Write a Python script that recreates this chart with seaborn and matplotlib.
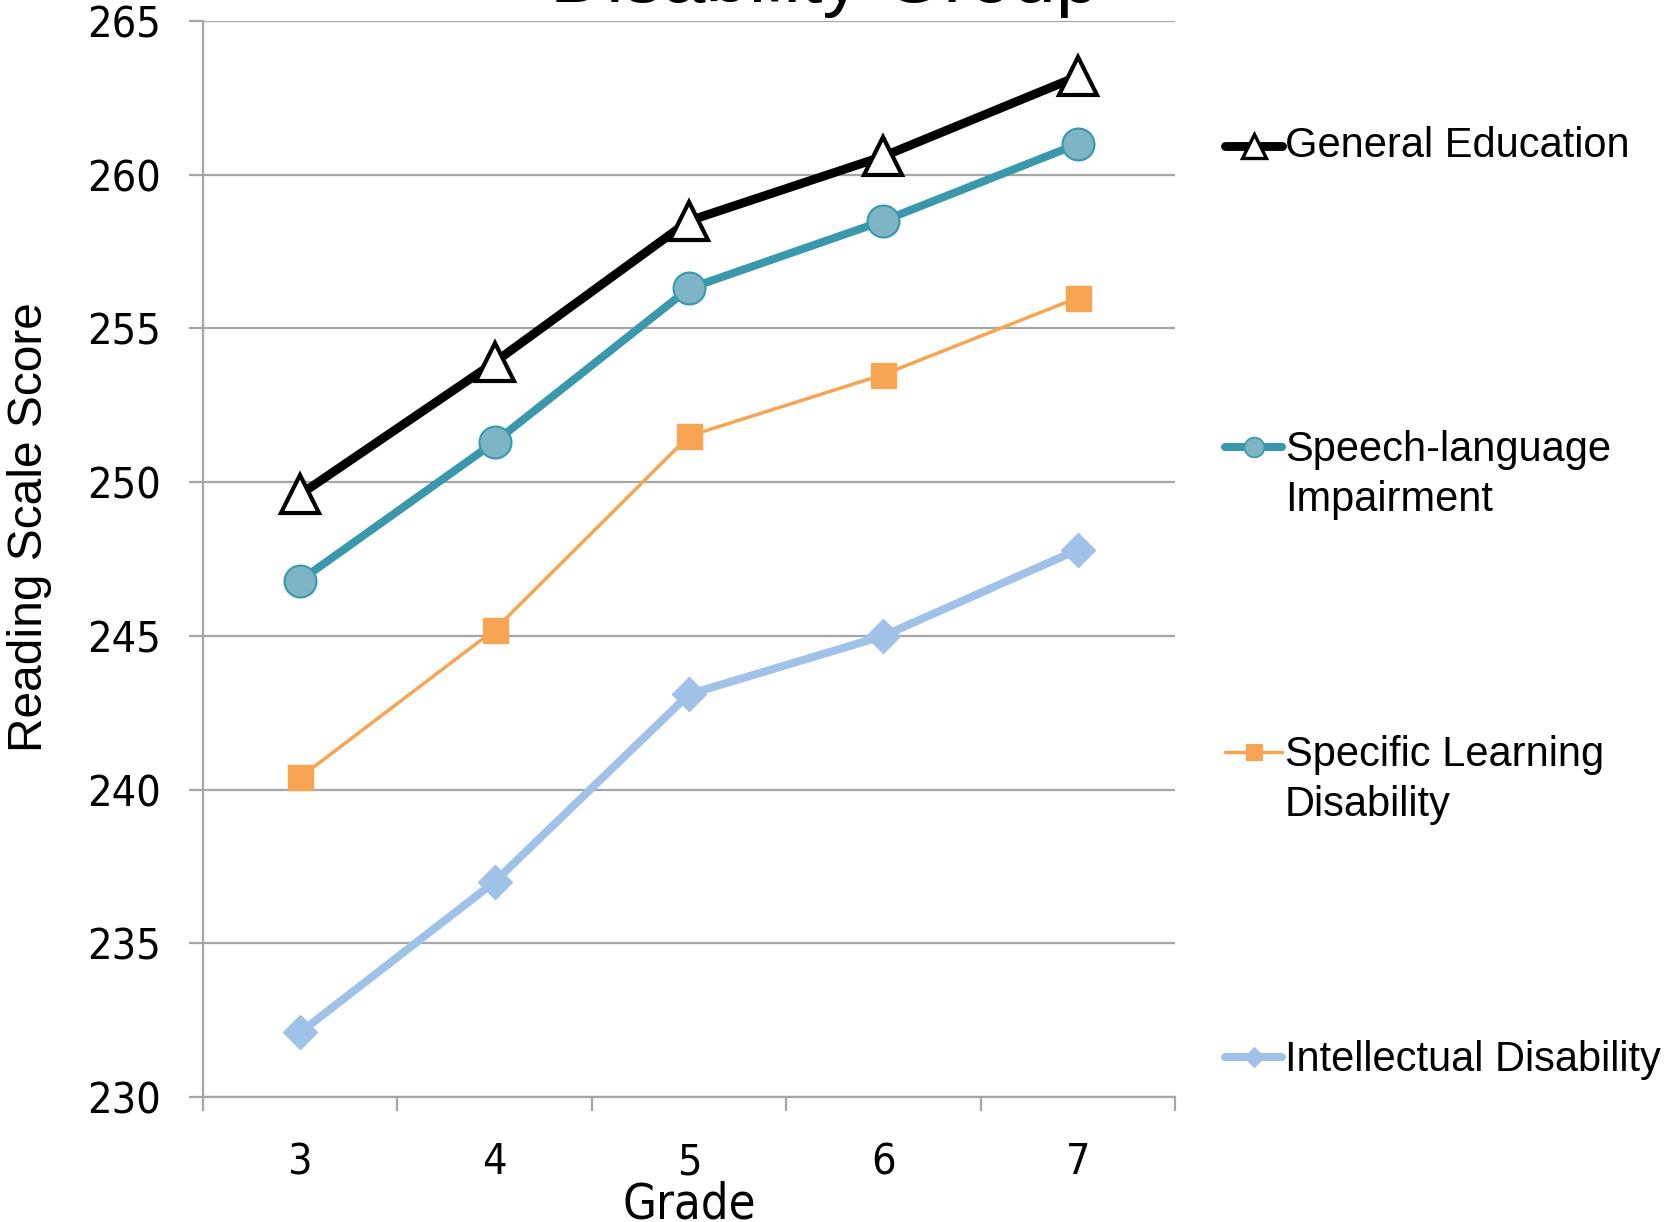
import matplotlib
matplotlib.use("Agg")
import matplotlib.pyplot as plt
from matplotlib.lines import Line2D
import seaborn as sns
import pandas as pd

grades = [3, 4, 5, 6, 7]
general_education = [249.6, 253.9, 258.5, 260.6, 263.2]
speech_language = [246.8, 251.3, 256.3, 258.5, 261.0]
specific_learning = [240.4, 245.2, 251.5, 253.5, 256.0]
intellectual = [232.1, 237.0, 243.1, 245.0, 247.8]

series_labels = ["General Education", "Speech-language\nImpairment",
                 "Specific Learning\nDisability", "Intellectual Disability"]
y_ticks = [230, 235, 240, 245, 250, 255, 260, 265]

sns.set_theme(style="white")
plt.rcParams["font.family"] = ["Liberation Sans", "DejaVu Sans"]
plt.rcParams["text.color"] = "black"
plt.rcParams["axes.labelcolor"] = "black"
plt.rcParams["xtick.color"] = "black"
plt.rcParams["ytick.color"] = "black"

fig = plt.figure(figsize=(16.75, 12.22), dpi=100)
ax = fig.add_axes([0.1212, 0.1023, 0.5803, 0.8805])

styles = [
    dict(color="black", lw=6.4, marker="^", ms=28, mfc="white", mec="black", mew=3.0),
    dict(color="#3A98AD", lw=5.8, marker="o", ms=23, mfc="#7DB5C5", mec="#3A98AD", mew=1.5),
    dict(color="#F8A553", lw=2.5, marker="s", ms=18, mfc="#F8A553", mec="#F8A553", mew=1.0),
    dict(color="#A0C2E8", lw=5.8, marker="D", ms=17, mfc="#A0C2E8", mec="#A0C2E8", mew=1.0),
]
values = [general_education, speech_language, specific_learning, intellectual]

for vals, st, lab in zip(values, styles, series_labels):
    df = pd.DataFrame({"Grade": grades, "Score": vals})
    sns.lineplot(data=df, x="Grade", y="Score", ax=ax, color=st["color"],
                 linewidth=st["lw"], marker=st["marker"], markersize=st["ms"],
                 markerfacecolor=st["mfc"], markeredgecolor=st["mec"],
                 markeredgewidth=st["mew"], zorder=3, label=lab, legend=False)

ax.set_xlim(2.5, 7.5)
ax.set_ylim(230, 265)
ax.set_yticks(y_ticks)
ax.set_xticks(grades)
ax.set_xticks([2.5, 3.5, 4.5, 5.5, 6.5, 7.5], minor=True)
grid_gray = "#A6A6A6"
ax.yaxis.grid(True, color=grid_gray, lw=1.6, zorder=0)
ax.xaxis.grid(False)
for side in ("top", "right"):
    ax.spines[side].set_visible(False)
for side in ("left", "bottom"):
    ax.spines[side].set_color(grid_gray)
    ax.spines[side].set_linewidth(1.6)

ax.tick_params(axis="x", which="major", length=0, pad=32, labelsize=31)
ax.tick_params(axis="x", which="minor", length=10, width=1.6, color=grid_gray, bottom=True)
ax.tick_params(axis="y", which="major", length=10, width=1.6, color=grid_gray, left=True,
               pad=20, labelsize=31)
for lbl in ax.get_xticklabels() + ax.get_yticklabels():
    lbl.set_family(["DejaVu Sans"])
    lbl.set_fontstretch("condensed")
    lbl.set_color("black")

ax.set_xlabel("Grade", fontsize=35, family=["DejaVu Sans"], fontstretch="condensed",
              labelpad=-2)
ax.set_ylabel("Reading Scale Score", fontsize=34.5)
ax.yaxis.set_label_coords(-0.155, 0.53)

fig.text(0.492, 0.998, "Disability Group", ha="center", va="baseline", fontsize=56)

# legend entries drawn at the right side
legend_y = [1 - 146 / 1222, 1 - 447 / 1222, 1 - 752 / 1222, 1 - 1057 / 1222]
text_y = [1 - 146 / 1222, 1 - 475 / 1222, 1 - 780 / 1222, 1 - 1060 / 1222]
x0, x1 = 1225 / 1675, 1282 / 1675
for st, ly, ty, lab in zip(styles, legend_y, text_y, series_labels):
    fig.add_artist(Line2D([x0, x1], [ly, ly], transform=fig.transFigure,
                          color=st["color"], lw=st["lw"], solid_capstyle="round"))
    fig.add_artist(Line2D([(x0 + x1) / 2], [ly], transform=fig.transFigure,
                          marker=st["marker"], ms=st["ms"] * 0.62, mfc=st["mfc"],
                          mec=st["mec"], mew=st["mew"] * 0.8, lw=0))
    fig.text(1285 / 1675, ty, lab, ha="left", va="center", fontsize=30, linespacing=1.3)

fig.savefig("out.png", dpi=100)
